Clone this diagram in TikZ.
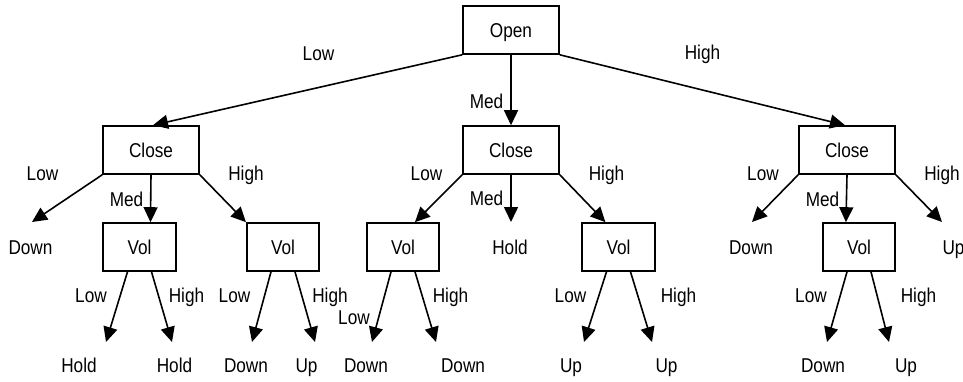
\documentclass[tikz,border=0pt]{standalone}
\usepackage{fontspec}
\setmainfont[FakeStretch=0.86]{Liberation Sans}
\usetikzlibrary{arrows.meta}
\begin{document}
\begin{tikzpicture}[x=1pt,y=-1pt,
  txt/.style={font=\fontsize{20}{23}\selectfont},
  box/.style={draw, line width=1.6pt, minimum width=96pt, minimum height=48pt,
              inner sep=0pt, text height=14.3pt, text depth=0pt, txt},
  volbox/.style={box, minimum width=72.5pt},
  lbl/.style={anchor=base, inner sep=0pt, txt},
  link/.style={line width=1.6pt, -{Triangle[length=15pt,width=14pt]}}]
\useasboundingbox (0,0) rectangle (963,382);

% decision boxes
\node[box] (open) at (511,30) {Open};
\node[box] (cl) at (151,150) {Close};
\node[box] (cm) at (511,150) {Close};
\node[box] (cr) at (847,150) {Close};
\node[volbox] (v1) at (139.5,247) {Vol};
\node[volbox] (v2) at (283,247) {Vol};
\node[volbox] (v3) at (403,247) {Vol};
\node[volbox] (v4) at (618.5,247) {Vol};
\node[volbox] (v5) at (859,247) {Vol};

% outcomes on the second level
\node[lbl] (dl) at (30.5,254) {Down};
\node[lbl] (hm) at (510,254) {Hold};
\node[lbl] (dr) at (751,254) {Down};
\node[lbl] (ur) at (953.5,254) {Up};

% outcomes on the third level
\node[lbl] (o1) at (79,372) {Hold};
\node[lbl] (o2) at (174.5,372) {Hold};
\node[lbl] (o3) at (246,372) {Down};
\node[lbl] (o4) at (306.5,372) {Up};
\node[lbl] (o5) at (366,372) {Down};
\node[lbl] (o6) at (463,372) {Down};
\node[lbl] (o7) at (571,372) {Up};
\node[lbl] (o8) at (666.5,372) {Up};
\node[lbl] (o9) at (823,372) {Down};
\node[lbl] (o10) at (906,372) {Up};

% arrow ends above the outcomes
\coordinate (tdl) at (32,222);
\coordinate (thm) at (511,222);
\coordinate (tdr) at (752,222);
\coordinate (tur) at (942,222);
\coordinate (t1) at (106,342);
\coordinate (t2) at (172,342);
\coordinate (t3) at (252,342);
\coordinate (t4) at (315,342);
\coordinate (t5) at (372,342);
\coordinate (t6) at (436,342);
\coordinate (t7) at (584,342);
\coordinate (t8) at (652,342);
\coordinate (t9) at (827,342);
\coordinate (t10) at (889,342);

% Open
\draw[link] (open.south west) -- ([xshift=2pt]cl.north);
\draw[link] (open.south) -- (cm.north);
\draw[link] (open.south east) -- ([xshift=-2pt]cr.north);
\node[lbl] at (318.5,61) {Low};
\node[lbl] at (486.5,109) {Med};
\node[lbl] at (702.5,60) {High};

% left Close
\draw[link] (cl.south west) -- (tdl);
\draw[link] (cl.south) -- ([xshift=48pt]v1.north west);
\draw[link] (cl.south east) -- (v2.north west);
\node[lbl] at (42.5,181) {Low};
\node[lbl] at (126.5,206) {Med};
\node[lbl] at (246,181) {High};

% middle Close
\draw[link] (cm.south west) -- ([xshift=49pt]v3.north west);
\draw[link] (cm.south) -- (thm);
\draw[link] (cm.south east) -- ([xshift=24pt]v4.north west);
\node[lbl] at (426.5,181) {Low};
\node[lbl] at (486.5,205) {Med};
\node[lbl] at (606.5,181) {High};

% right Close
\draw[link] (cr.south west) -- (tdr);
\draw[link] (cr.south) -- ([xshift=24pt]v5.north west);
\draw[link] (cr.south east) -- (tur);
\node[lbl] at (763,181) {Low};
\node[lbl] at (822.5,206) {Med};
\node[lbl] at (942,181) {High};

% Vol branches
\draw[link] ([xshift=-12pt]v1.south) -- (t1);
\draw[link] ([xshift=12pt]v1.south) -- (t2);
\draw[link] ([xshift=-12pt]v2.south) -- (t3);
\draw[link] ([xshift=12pt]v2.south) -- (t4);
\draw[link] ([xshift=-12pt]v3.south) -- (t5);
\draw[link] ([xshift=12pt]v3.south) -- (t6);
\draw[link] ([xshift=-12pt]v4.south) -- (t7);
\draw[link] ([xshift=12pt]v4.south) -- (t8);
\draw[link] ([xshift=-12pt]v5.south) -- (t9);
\draw[link] ([xshift=12pt]v5.south) -- (t10);

\node[lbl] at (91,302) {Low};
\node[lbl] at (186.5,302) {High};
\node[lbl] at (234.5,302) {Low};
\node[lbl] at (330,302) {High};
\node[lbl] at (354,324) {Low};
\node[lbl] at (450.5,302) {High};
\node[lbl] at (570.5,302) {Low};
\node[lbl] at (678.5,302) {High};
\node[lbl] at (811,302) {Low};
\node[lbl] at (918.5,302) {High};
\end{tikzpicture}
\end{document}
